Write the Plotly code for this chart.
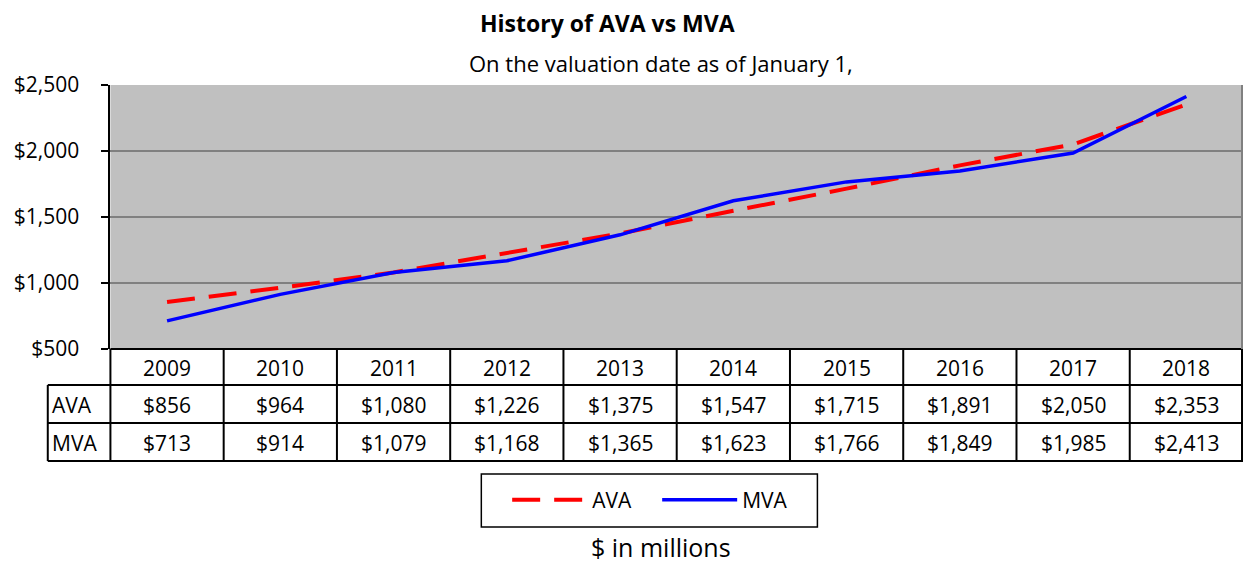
import plotly.graph_objects as go

years = ["2009", "2010", "2011", "2012", "2013", "2014", "2015", "2016", "2017", "2018"]
ava = [856, 964, 1080, 1226, 1375, 1547, 1715, 1891, 2050, 2353]
mva = [713, 914, 1079, 1168, 1365, 1623, 1766, 1849, 1985, 2413]
series_names = ["AVA", "MVA"]
y_ticks = [500, 1000, 1500, 2000, 2500]
y_tick_text = [f"${v:,}" for v in y_ticks]

# the page body has an 8px margin; size the figure so it fits the 1251x571 window exactly
OFF = 8
W, H = 1251 - 2 * OFF, 571 - 2 * OFF
FONT = "Open Sans, Lato, sans-serif"

def px_x(p):
    # map a reference pixel column into paper space (slight squeeze to fit the window)
    return (p - OFF) / (1250 - OFF)

def px_y(p):
    return 1 - (p - OFF) / H

x_dom = [px_x(111), px_x(1250)]
y_dom = [px_y(349), px_y(85)]
n = len(years)
idx = list(range(n))

def col_edge(k):
    return x_dom[0] + k * (x_dom[1] - x_dom[0]) / n

def col_center(i):
    return x_dom[0] + (i + 0.5) * (x_dom[1] - x_dom[0]) / n

fig = go.Figure()
fig.add_trace(go.Scatter(x=idx, y=ava, mode="lines", name=series_names[0],
                         line=dict(color="#FF0000", width=4, dash="28px,14px")))
fig.add_trace(go.Scatter(x=idx, y=mva, mode="lines", name=series_names[1],
                         line=dict(color="#0000FF", width=3.5)))

# table geometry (pixel rows)
row_edges = [349, 385, 423, 461]
label_left = px_x(48)
shapes = []
lc = dict(color="black", width=2)
shapes.append(dict(type="line", xref="paper", yref="paper", x0=x_dom[0], x1=x_dom[1],
                   y0=px_y(row_edges[0]), y1=px_y(row_edges[0]), line=lc))
for r in row_edges[1:]:
    shapes.append(dict(type="line", xref="paper", yref="paper", x0=label_left, x1=x_dom[1],
                       y0=px_y(r), y1=px_y(r), line=lc))
for k in range(n + 1):
    xe = min(col_edge(k), 1 - 1 / W)
    shapes.append(dict(type="line", xref="paper", yref="paper", x0=xe, x1=xe,
                       y0=px_y(row_edges[0]), y1=px_y(row_edges[-1]), line=lc))
shapes.append(dict(type="line", xref="paper", yref="paper", x0=label_left, x1=label_left,
                   y0=px_y(row_edges[1]), y1=px_y(row_edges[-1]), line=lc))
# right border of plot area (gray)
shapes.append(dict(type="line", xref="paper", yref="paper", x0=1 - 1 / W, x1=1 - 1 / W,
                   y0=y_dom[0], y1=y_dom[1], line=dict(color="#808080", width=2)))
# legend frame
shapes.append(dict(type="rect", xref="paper", yref="paper", x0=px_x(484), x1=px_x(822),
                   y0=px_y(527), y1=px_y(474), line=dict(color="black", width=1.5),
                   fillcolor="white", layer="below"))

annotations = []
tf = dict(family=FONT, size=21, color="black")
def row_mid(a, b):
    return px_y((row_edges[a] + row_edges[b]) / 2 + 1)

for i in range(n):
    annotations.append(dict(x=col_center(i), y=row_mid(0, 1), xref="paper", yref="paper",
                            text=years[i], showarrow=False, font=tf, xanchor="center", yanchor="middle"))
    annotations.append(dict(x=col_center(i), y=row_mid(1, 2), xref="paper", yref="paper",
                            text=f"${ava[i]:,}", showarrow=False, font=tf, xanchor="center", yanchor="middle"))
    annotations.append(dict(x=col_center(i), y=row_mid(2, 3), xref="paper", yref="paper",
                            text=f"${mva[i]:,}", showarrow=False, font=tf, xanchor="center", yanchor="middle"))
for j, nm in enumerate(series_names):
    annotations.append(dict(x=px_x(50), y=row_mid(j + 1, j + 2), xref="paper", yref="paper",
                            text=nm, showarrow=False, font=tf, xanchor="left", yanchor="middle"))

annotations.append(dict(x=px_x(611), y=px_y(23), xref="paper", yref="paper",
                        text="<b>History of AVA vs MVA</b>", showarrow=False,
                        font=dict(family=FONT, size=23, color="black"), xanchor="center", yanchor="middle"))
annotations.append(dict(x=px_x(665), y=px_y(63), xref="paper", yref="paper",
                        text="On the valuation date as of January 1,", showarrow=False,
                        font=dict(family=FONT, size=22, color="black"), xanchor="center", yanchor="middle"))
annotations.append(dict(x=px_x(665), y=px_y(547), xref="paper", yref="paper",
                        text="$ in millions", showarrow=False,
                        font=dict(family=FONT, size=25, color="black"), xanchor="center", yanchor="middle"))

fig.update_layout(
    width=W, height=H,
    margin=dict(l=0, r=0, t=0, b=0, autoexpand=False),
    paper_bgcolor="white",
    plot_bgcolor="#C0C0C0",
    font=dict(family=FONT, color="black"),
    showlegend=True,
    legend=dict(orientation="h", x=px_x(510), y=px_y(500), xanchor="left", yanchor="middle",
                borderwidth=0, bgcolor="rgba(0,0,0,0)",
                font=dict(family=FONT, size=21), entrywidth=60, itemwidth=75),
    xaxis=dict(domain=[x_dom[0], min(x_dom[1], 1.0)], range=[-0.5, n - 0.5], showticklabels=False,
               showgrid=False, zeroline=False, showline=False, fixedrange=True, automargin=False),
    yaxis=dict(domain=y_dom, range=[y_ticks[0], y_ticks[-1]], tickmode="array",
               tickvals=y_ticks, ticktext=y_tick_text, automargin=False,
               showgrid=True, gridcolor="#808080", gridwidth=2,
               zeroline=False, showline=True, linecolor="black", linewidth=2,
               ticks="outside", ticklen=7, tickwidth=2, tickcolor="black",
               ticklabelstandoff=18,
               tickfont=dict(family=FONT, size=21, color="black")),
    shapes=shapes,
    annotations=annotations,
)

fig.write_html("out.html")
